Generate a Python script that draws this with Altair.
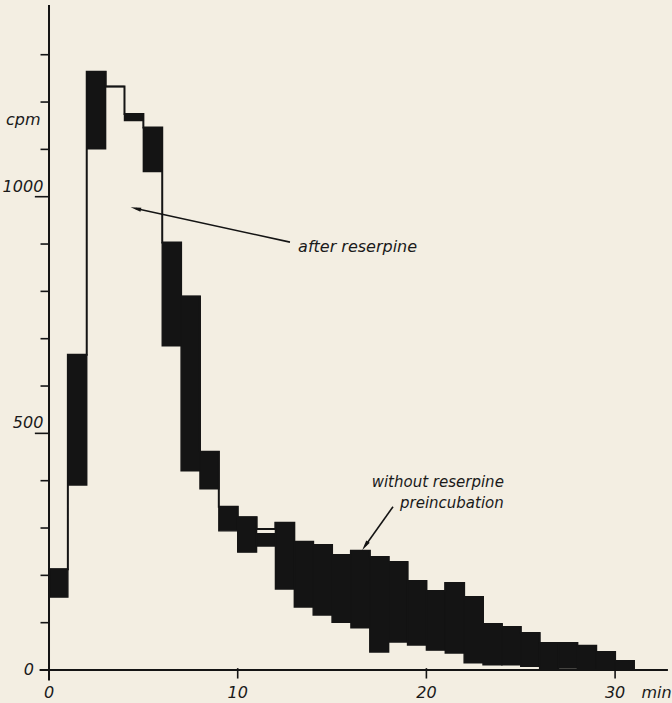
import altair as alt
import pandas as pd

# ---- data (1-minute fractions) ----
bin_start = list(range(31))
upper_cpm = [213, 666, 1264, 1233, 1175, 1146, 903, 789, 461, 345, 323, 288, 311, 271, 264, 243,
             252, 239, 228, 188, 167, 184, 154, 97, 91, 78, 57, 57, 51, 38, 19]
lower_cpm = [154, 391, 1101, 1233, 1161, 1053, 685, 421, 383, 294, 249, 262, 171, 133, 116, 101,
             89, 38, 59, 53, 42, 36, 15, 11, 11, 8, 0, 4, 0, 0, 0]
outline_cpm = [213, 666, 1264, 1233, 1175, 1146, 903, 789, 461, 345, 323, 298, 311, 271, 264, 243,
               252, 239, 228, 188, 167, 184, 154, 97, 91, 78, 57, 57, 51, 38, 19]

y_minor_ticks = [100, 200, 300, 400, 600, 700, 800, 900, 1100, 1200, 1300]
y_major_ticks = [500, 1000]
y_labels = ["500", "1000"]
x_ticks = [10, 20, 30]
x_labels = ["0", "10", "20", "30"]
x_label_vals = [0, 10, 20, 30]

INK = "#141414"
BG = "#f3eee2"
FONT = "DejaVu Sans"

xs = alt.Scale(domain=[-2.597, 33.016], nice=False, zero=False)
ys = alt.Scale(domain=[-69.7, 1415.6], nice=False, zero=False)


def X(f):
    return alt.X(f, type="quantitative", scale=xs, axis=None)


def Y(f):
    return alt.Y(f, type="quantitative", scale=ys, axis=None)


bars = pd.DataFrame({
    "x": bin_start,
    "x2": [b + 1 for b in bin_start],
    "lo": lower_cpm,
    "hi": upper_cpm,
})

line_x = [0] + bin_start + [31, 31]
line_y = [0] + outline_cpm + [outline_cpm[-1], 0]
outline = pd.DataFrame({"x": line_x, "y": line_y, "o": list(range(len(line_x)))})

rects = alt.Chart(bars).mark_rect(color=INK, stroke=INK, strokeWidth=1.4).encode(
    x=X("x"), x2="x2", y=Y("lo"), y2="hi")

step = alt.Chart(outline).mark_line(color=INK, strokeWidth=2, interpolate="step-after").encode(
    x=X("x"), y=Y("y"), order="o:Q")

# axes drawn as rules
axes_df = pd.DataFrame({"x": [0, -0.5], "x2": [0, 32.8], "y": [-22, 0], "y2": [1405, 0]})
axes = alt.Chart(axes_df).mark_rule(color=INK, strokeWidth=2).encode(
    x=X("x"), x2="x2", y=Y("y"), y2="y2")

minor = alt.Chart(pd.DataFrame({"v": y_minor_ticks})).mark_rule(color=INK, strokeWidth=1.6).encode(
    x=alt.X("a:Q", scale=xs, axis=None), x2="b:Q", y=Y("v")).transform_calculate(a="-0.45", b="0")

major = alt.Chart(pd.DataFrame({"v": y_major_ticks})).mark_rule(color=INK, strokeWidth=1.6).encode(
    x=alt.X("a:Q", scale=xs, axis=None), x2="b:Q", y=Y("v")).transform_calculate(a="-0.75", b="0")

xt = alt.Chart(pd.DataFrame({"v": x_ticks})).mark_rule(color=INK, strokeWidth=1.6).encode(
    x=X("v"), y=alt.Y("a:Q", scale=ys, axis=None), y2="b:Q").transform_calculate(a="-18", b="4")

txt = dict(font=FONT, fontStyle="italic", fontSize=16, color="#1a1a1a")

ylab = alt.Chart(pd.DataFrame({"v": y_major_ticks, "t": y_labels})).mark_text(
    align="right", baseline="bottom", dy=-2, **txt).encode(
    x=alt.X("a:Q", scale=xs, axis=None), y=Y("v"), text="t:N").transform_calculate(a="-0.3")

ylab0 = alt.Chart(pd.DataFrame({"v": [0], "t": ["0"]})).mark_text(
    align="right", baseline="middle", **txt).encode(
    x=alt.X("a:Q", scale=xs, axis=None), y=Y("v"), text="t:N").transform_calculate(a="-0.8")

xlab = alt.Chart(pd.DataFrame({"v": x_label_vals, "t": x_labels})).mark_text(
    align="center", baseline="top", **txt).encode(
    x=X("v"), y=alt.Y("a:Q", scale=ys, axis=None), text="t:N").transform_calculate(a="-32")

units_min = alt.Chart(pd.DataFrame({"x": [32.2], "y": [-32], "t": ["min"]})).mark_text(
    align="center", baseline="top", **txt).encode(x=X("x"), y=Y("y"), text="t:N")
units_cpm = alt.Chart(pd.DataFrame({"x": [-0.45], "y": [1162], "t": ["cpm"]})).mark_text(
    align="right", baseline="middle", **txt).encode(x=X("x"), y=Y("y"), text="t:N")

# annotations
ann_main = alt.Chart(pd.DataFrame({"x": [13.2], "y": [883], "t": ["after reserpine"]})).mark_text(
    align="left", baseline="alphabetic", **txt).encode(x=X("x"), y=Y("y"), text="t:N")

ann2 = pd.DataFrame({
    "x": [17.1, 18.6],
    "y": [386, 343],
    "t": ["without reserpine", "preincubation"],
})
txt15 = dict(txt, fontSize=15)
ann_text = alt.Chart(ann2).mark_text(align="left", baseline="alphabetic", **txt15).encode(
    x=X("x"), y=Y("y"), text="t:N")

arrows = pd.DataFrame({
    "x": [12.77, 18.23], "y": [904, 345],
    "x2": [4.6, 16.75], "y2": [975, 262],
    "ang": [283, 214],
})
arrow_lines = alt.Chart(arrows).mark_rule(color=INK, strokeWidth=1.6).encode(
    x=X("x"), y=Y("y"), x2="x2", y2="y2")
arrow_heads = alt.Chart(arrows).mark_point(
    shape="M0,-1L0.4,1L-0.4,1Z", filled=True, color=INK, opacity=1, size=110).encode(
    x=X("x2"), y=Y("y2"), angle=alt.Angle("ang:Q", scale=None))

chart = alt.layer(
    rects, step, axes, minor, major, xt, ylab, ylab0, xlab, units_min, units_cpm,
    ann_main, ann_text, arrow_lines, arrow_heads
).properties(
    width=672, height=703, autosize=alt.AutoSizeParams(type="none"), padding=0,
    background=BG
).configure_view(strokeWidth=0)

chart.save("out.html", embed_options={"renderer": "svg", "actions": False})
